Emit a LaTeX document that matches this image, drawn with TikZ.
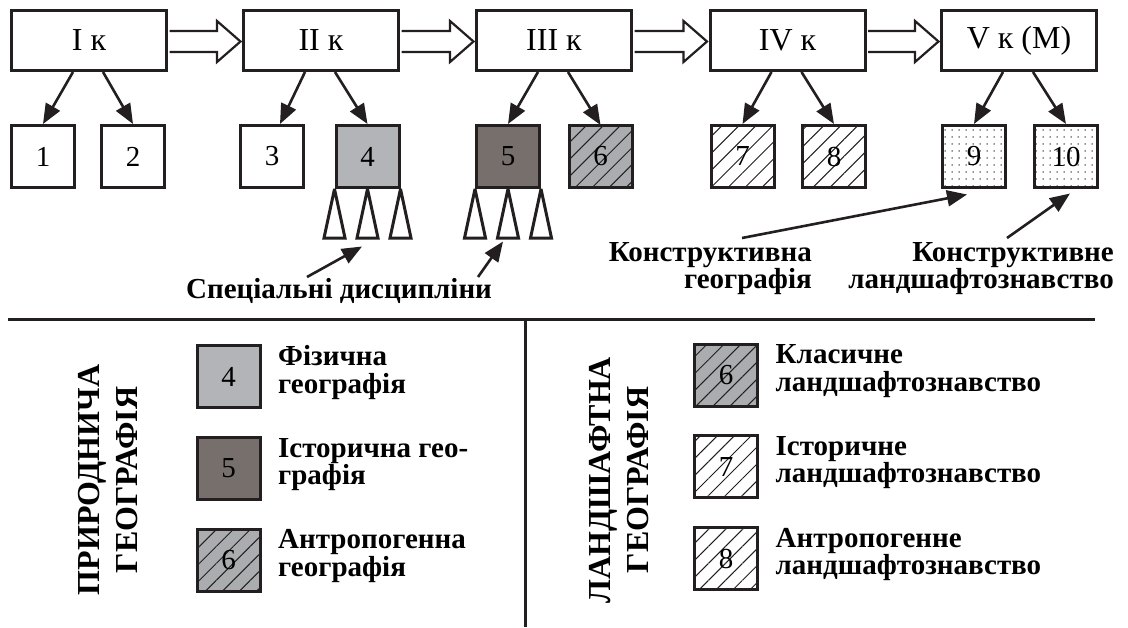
\documentclass[tikz,border=0pt]{standalone}
\usepackage{fontspec}
\setmainfont{Liberation Serif}
\usetikzlibrary{calc,positioning,arrows.meta,patterns.meta}

\definecolor{ink}{RGB}{35,31,32}
\definecolor{lightgr}{RGB}{178,180,183}
\definecolor{darkgr}{RGB}{118,111,108}
\definecolor{hatchgr}{RGB}{170,172,175}

\tikzset{
  kurs/.style={draw=ink, line width=3pt, minimum width=155pt, minimum height=60pt,
    inner sep=0pt, fill=white, font=\fontsize{32}{32}\selectfont},
  sq/.style={draw=ink, line width=3pt, minimum width=63pt, minimum height=62pt,
    inner sep=0pt, font=\fontsize{29}{29}\selectfont},
  fizgeo/.style={sq, fill=lightgr},
  istgeo/.style={sq, fill=darkgr},
  antgeo/.style={sq, preaction={fill=hatchgr},
    pattern={Lines[angle=45,distance=12pt,line width=1pt]}, pattern color=ink},
  hatch/.style={sq, preaction={fill=white},
    pattern={Lines[angle=45,distance=12pt,line width=1pt]}, pattern color=ink},
  dotbox/.style={sq, preaction={fill=white},
    pattern={Dots[distance=7pt,radius=0.75pt]}, pattern color=ink},
  arr/.style={draw=ink, line width=2.6pt, -{Triangle[length=20pt,width=16pt]}},
  hollow/.style={draw=ink, line width=2.2pt, fill=white, line join=miter},
  spike/.style={draw=ink, line width=3pt, fill=white, line join=miter, miter limit=2},
  lbl/.style={font=\fontsize{29}{27.5}\selectfont\bfseries, inner sep=0pt},
  vert/.style={font=\fontsize{32}{38}\selectfont\bfseries, rotate=90, align=center, inner sep=0pt},
}

\begin{document}
\begin{tikzpicture}[x=1pt,y=-1pt]
    \useasboundingbox (0,0) rectangle (1128,627);

    % courses
    \node[kurs] (k1) at (89,40.5) {I к};
    \node[kurs] (k2) at (321,40.5) {II к};
    \node[kurs] (k3) at (554,40.5) {III к};
    \node[kurs] (k4) at (787.5,40.5) {IV к};
    \node[kurs] (k5) at (1019,40.5) {V к (М)};

    \draw[hollow] ($(k1.east)+(1.5,-9.5)$) -- ($(k2.west)+(-25,-9.5)$) -- ($(k2.west)+(-25,-19.5)$) -- ($(k2.west)+(-1.5,1)$) -- ($(k2.west)+(-25,21.5)$) -- ($(k2.west)+(-25,11.5)$) -- ($(k1.east)+(1.5,11.5)$);
    \draw[hollow] ($(k2.east)+(1.5,-9.5)$) -- ($(k3.west)+(-25,-9.5)$) -- ($(k3.west)+(-25,-19.5)$) -- ($(k3.west)+(-1.5,1)$) -- ($(k3.west)+(-25,21.5)$) -- ($(k3.west)+(-25,11.5)$) -- ($(k2.east)+(1.5,11.5)$);
    \draw[hollow] ($(k3.east)+(1.5,-9.5)$) -- ($(k4.west)+(-25,-9.5)$) -- ($(k4.west)+(-25,-19.5)$) -- ($(k4.west)+(-1.5,1)$) -- ($(k4.west)+(-25,21.5)$) -- ($(k4.west)+(-25,11.5)$) -- ($(k3.east)+(1.5,11.5)$);
    \draw[hollow] ($(k4.east)+(1.5,-9.5)$) -- ($(k5.west)+(-25,-9.5)$) -- ($(k5.west)+(-25,-19.5)$) -- ($(k5.west)+(-1.5,1)$) -- ($(k5.west)+(-25,21.5)$) -- ($(k5.west)+(-25,11.5)$) -- ($(k4.east)+(1.5,11.5)$);

    % disciplines
    \node[sq] (b1) at (43,156.5) {1};
    \node[sq] (b2) at (133,156.5) {2};
    \node[sq] (b3) at (272,156.5) {3};
    \node[fizgeo] (b4) at (367.5,156.5) {4};
    \node[istgeo] (b5) at (508,156.5) {5};
    \node[antgeo] (b6) at (600.5,156.5) {6};
    \node[hatch] (b7) at (742.5,156.5) {7};
    \node[hatch] (b8) at (834,156.5) {8};
    \node[dotbox] (b9) at (974,156.5) {9};
    \node[dotbox] (b10) at (1066,156.5) {10};

    \draw[arr] ($(k1.south)+(-16,0)$) -- (b1.north);
    \draw[arr] ($(k1.south)+(14,0)$) -- (b2.north);
    \draw[arr] ($(k2.south)+(-16,0)$) -- ($(b3.north)+(8,0)$);
    \draw[arr] ($(k2.south)+(14,0)$) -- (b4.north);
    \draw[arr] ($(k3.south)+(-16,0)$) -- (b5.north);
    \draw[arr] ($(k3.south)+(14,0)$) -- (b6.north);
    \draw[arr] ($(k4.south)+(-16,0)$) -- (b7.north);
    \draw[arr] ($(k4.south)+(14,0)$) -- (b8.north);
    \draw[arr] ($(k5.south)+(-16,0)$) -- (b9.north);
    \draw[arr] ($(k5.south)+(14,0)$) -- (b10.north);

    \draw[spike] (b4.south west) -- ++(-10.5,49) -- ++(21,0) -- cycle;
    \draw[spike] (b4.south) -- ++(-10.5,49) -- ++(21,0) -- cycle;
    \draw[spike] (b4.south east) -- ++(-10.5,49) -- ++(21,0) -- cycle;
    \draw[spike] (b5.south west) -- ++(-10.5,49) -- ++(21,0) -- cycle;
    \draw[spike] (b5.south) -- ++(-10.5,49) -- ++(21,0) -- cycle;
    \draw[spike] (b5.south east) -- ++(-10.5,49) -- ++(21,0) -- cycle;

    \node[lbl, anchor=base west] (spec) at (186,298) {Спеціальні дисципліни};
    \coordinate (s1) at (307,277);
    \coordinate (s2) at (478,277);
    \draw[arr] (s1) -- ($(b4.south)+(-5.5,57.5)$);
    \draw[arr] (s2) -- ($(b5.south)+(-5,52.5)$);

    \node[lbl, anchor=north east, align=right] (kgeo) at (812,242) {Конструктивна\\географія};
    \node[lbl, anchor=north east, align=right] (kland) at (1114,242) {Конструктивне\\ландшафтознавство};
    \coordinate (g1) at (742,238);
    \coordinate (g2) at (1007,238);
    \draw[arr] (g1) -- ($(b9.south)+(-7,5.5)$);
    \draw[arr] (g2) -- ($(b10.south)+(4,4.5)$);

    % legend
    \draw[draw=ink, line width=3pt] (8,319) -- (1095,319);
    \draw[draw=ink, line width=3pt] (525,319) -- (525,627);

    \node[vert] (prir) at (108,480) {ПРИРОДНИЧА\\ГЕОГРАФІЯ};
    \node[fizgeo] (l4) at (228.5,376.5) {4};
    \node[istgeo] (l5) at (228.5,468.5) {5};
    \node[antgeo] (l6) at (228.5,560) {6};
    \node[lbl, right=16.5pt of l4, align=left, yshift=4pt] (t4) {Фізична\\географія};
    \node[lbl, right=16.5pt of l5, align=left, yshift=4pt] (t5) {Історична гео-\\графія};
    \node[lbl, right=16.5pt of l6, align=left, yshift=4pt] (t6) {Антропогенна\\географія};

    \node[vert] (land) at (619,480) {ЛАНДШАФТНА\\ГЕОГРАФІЯ};
    \node[antgeo] (r6) at (726,375) {6};
    \node[hatch] (r7) at (726,466.5) {7};
    \node[hatch] (r8) at (726,558.5) {8};
    \node[lbl, right=16.5pt of r6, align=left, yshift=4pt] (t6r) {Класичне\\ландшафтознавство};
    \node[lbl, right=16.5pt of r7, align=left, yshift=4pt] (t7r) {Історичне\\ландшафтознавство};
    \node[lbl, right=16.5pt of r8, align=left, yshift=4pt] (t8r) {Антропогенне\\ландшафтознавство};
\end{tikzpicture}
\end{document}
